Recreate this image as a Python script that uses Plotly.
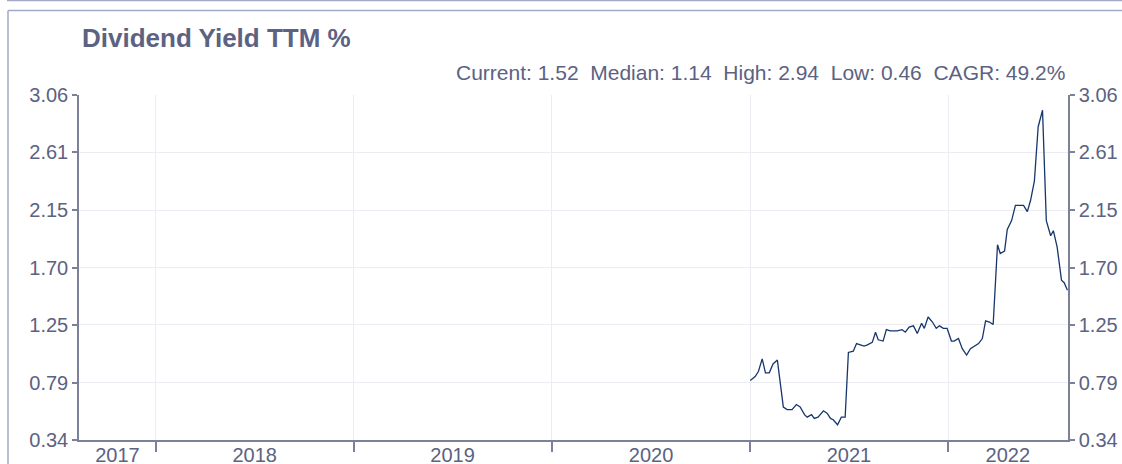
import plotly.graph_objects as go

dates = [
    "2021-01-01", "2021-01-10", "2021-01-16", "2021-01-23", "2021-01-29", "2021-02-05",
    "2021-02-12", "2021-02-20", "2021-03-03", "2021-03-10", "2021-03-19", "2021-03-27",
    "2021-04-03", "2021-04-11", "2021-04-16", "2021-04-24", "2021-04-29", "2021-05-06",
    "2021-05-16", "2021-05-23", "2021-05-29", "2021-06-03", "2021-06-11", "2021-06-18",
    "2021-06-25", "2021-07-01", "2021-07-10", "2021-07-16", "2021-07-23", "2021-07-30",
    "2021-08-05", "2021-08-14", "2021-08-20", "2021-08-25", "2021-09-03", "2021-09-09",
    "2021-09-16", "2021-09-24", "2021-09-29", "2021-10-08", "2021-10-14", "2021-10-21",
    "2021-10-29", "2021-11-05", "2021-11-13", "2021-11-18", "2021-11-25", "2021-12-03",
    "2021-12-10", "2021-12-16", "2021-12-23", "2021-12-30", "2022-01-07", "2022-01-12",
    "2022-01-20", "2022-01-27", "2022-02-04", "2022-02-11", "2022-02-18", "2022-02-26",
    "2022-03-05", "2022-03-11", "2022-03-18", "2022-03-25", "2022-04-02", "2022-04-07",
    "2022-04-15", "2022-04-20", "2022-04-28", "2022-05-05", "2022-05-12", "2022-05-20",
    "2022-05-27", "2022-06-02", "2022-06-09", "2022-06-16", "2022-06-24", "2022-07-01",
    "2022-07-09", "2022-07-14", "2022-07-21", "2022-07-29", "2022-08-03", "2022-08-09",
]

dividend_yield = [
    0.81, 0.84, 0.88, 0.98, 0.87, 0.87, 0.94, 0.97, 0.60, 0.58, 0.58, 0.62,
    0.60, 0.54, 0.52, 0.54, 0.51, 0.52, 0.57, 0.55, 0.51, 0.50, 0.46, 0.52,
    0.52, 1.03, 1.04, 1.10, 1.09, 1.08, 1.09, 1.11, 1.19, 1.13, 1.12, 1.21,
    1.20, 1.20, 1.20, 1.21, 1.19, 1.23, 1.24, 1.18, 1.26, 1.22, 1.31, 1.27,
    1.22, 1.24, 1.22, 1.22, 1.12, 1.12, 1.14, 1.06, 1.01, 1.06, 1.08, 1.10,
    1.14, 1.28, 1.27, 1.25, 1.88, 1.81, 1.83, 2.00, 2.07, 2.19, 2.19, 2.19,
    2.14, 2.23, 2.38, 2.81, 2.94, 2.07, 1.95, 1.99, 1.86, 1.60, 1.58, 1.52,
]

x_range = ["2017-08-12", "2022-08-10"]
year_boundaries = ["2018-01-01", "2019-01-01", "2020-01-01", "2021-01-01", "2022-01-01"]
year_label_pos = ["2017-10-22", "2018-07-02", "2019-07-02", "2020-07-02", "2021-07-02", "2022-04-21"]
year_labels = ["2017", "2018", "2019", "2020", "2021", "2022"]

y_ticks = [0.34, 0.79, 1.25, 1.70, 2.15, 2.61, 3.06]
y_ticktext = ["0.34", "0.79", "1.25", "1.70", "2.15", "2.61", "3.06"]
y_range = [0.34, 3.06]

title_text = "Dividend Yield TTM %"
stats_text = "Current: 1.52  Median: 1.14  High: 2.94  Low: 0.46  CAGR: 49.2%"

FONT = "Arial, Liberation Sans, sans-serif"
TEXT_COLOR = "#5b6282"
AXIS_COLOR = "#7c8199"
GRID_COLOR = "#ececf3"
LINE_COLOR = "#17366b"
FRAME_COLOR = "#a3a8c6"

W, H = 1122, 464
ML, MR, MT, MB = 79, 54, 95, 24
PW, PH = W - ML - MR, H - MT - MB

def px_x(px):
    return (px - ML) / PW

def px_y(py):
    return (H - MB - py) / PH

fig = go.Figure()
fig.add_trace(go.Scatter(
    x=dates, y=dividend_yield, mode="lines",
    line=dict(color=LINE_COLOR, width=1.3),
    showlegend=False, hoverinfo="x+y",
))
fig.add_trace(go.Scatter(
    x=dates, y=dividend_yield, mode="lines", yaxis="y2",
    line=dict(color="rgba(0,0,0,0)", width=0),
    showlegend=False, hoverinfo="skip",
))

yaxis_common = dict(
    range=y_range, tickmode="array", tickvals=y_ticks, ticktext=y_ticktext,
    showline=True, linecolor=AXIS_COLOR, linewidth=1.5,
    ticks="outside", ticklen=5, tickcolor=AXIS_COLOR, tickwidth=1.5,
    tickfont=dict(family=FONT, size=20, color=TEXT_COLOR),
    zeroline=False, fixedrange=True, automargin=False,
)

fig.update_layout(
    width=W, height=H,
    margin=dict(l=ML, r=MR, t=MT, b=MB, pad=0, autoexpand=False),
    paper_bgcolor="white", plot_bgcolor="white",
    xaxis=dict(
        type="date", range=x_range,
        tickmode="array", tickvals=year_label_pos, ticktext=year_labels,
        ticks="", showgrid=False, ticklabelstandoff=-4,
        showline=True, linecolor=AXIS_COLOR, linewidth=1.5,
        tickfont=dict(family=FONT, size=20, color=TEXT_COLOR),
        minor=dict(tickmode="array", tickvals=year_boundaries, ticks="outside",
                   ticklen=10, tickcolor=AXIS_COLOR, tickwidth=1.5,
                   showgrid=True, gridcolor=GRID_COLOR, gridwidth=1),
        zeroline=False, fixedrange=True, automargin=False,
    ),
    yaxis=dict(side="left", showgrid=True, gridcolor=GRID_COLOR, gridwidth=1, **yaxis_common),
    yaxis2=dict(side="right", overlaying="y", showgrid=False, **yaxis_common),
    annotations=[
        dict(text="<b>" + title_text + "</b>", xref="paper", yref="paper",
             x=px_x(80), y=px_y(38), xanchor="left", yanchor="middle",
             showarrow=False, font=dict(family=FONT, size=26, color=TEXT_COLOR)),
        dict(text=stats_text, xref="paper", yref="paper",
             x=px_x(1067), y=px_y(72), xanchor="right", yanchor="middle",
             showarrow=False, font=dict(family=FONT, size=21, color=TEXT_COLOR)),
    ],
    shapes=[
        dict(type="line", xref="paper", yref="paper", x0=px_x(7), x1=px_x(1130),
             y0=px_y(0.5), y1=px_y(0.5), line=dict(color=FRAME_COLOR, width=1.5)),
        dict(type="line", xref="paper", yref="paper", x0=px_x(8), x1=px_x(1130),
             y0=px_y(10.5), y1=px_y(10.5), line=dict(color=FRAME_COLOR, width=1.5)),
        dict(type="line", xref="paper", yref="paper", x0=px_x(8), x1=px_x(8),
             y0=px_y(10.5), y1=px_y(470), line=dict(color=FRAME_COLOR, width=1.5)),
    ],
)

fig.write_html(
    "out.html",
    config={"displayModeBar": False},
    post_script="document.body.style.margin='0';document.body.style.overflow='hidden';",
)
